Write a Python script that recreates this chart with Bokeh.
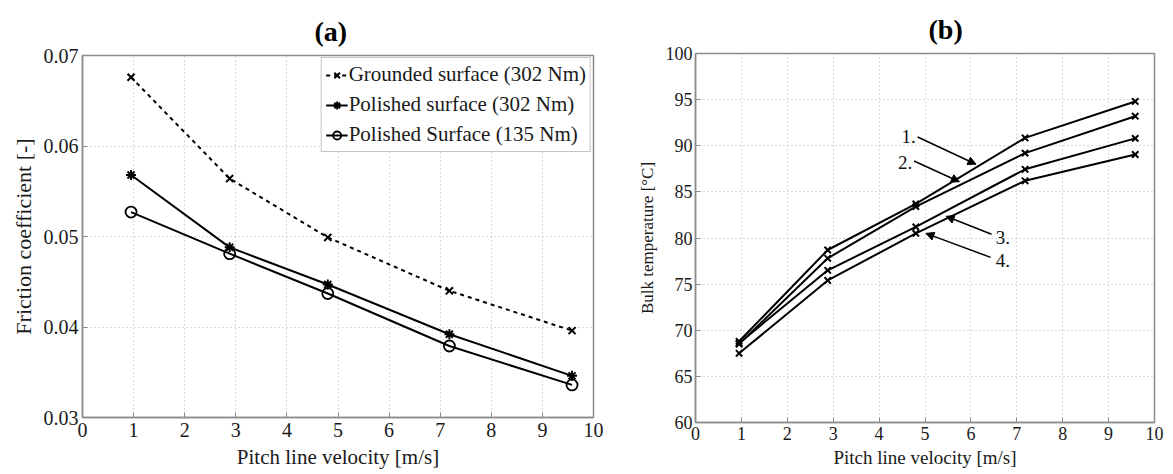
from bokeh.plotting import figure
from bokeh.layouts import row, column
from bokeh.models import (FixedTicker, Range1d, Arrow, NormalHead,
                          LabelSet, ColumnDataSource)
from bokeh.embed import file_html
from bokeh.resources import INLINE

# ---------------- data ----------------
velocity = [0.95, 2.88, 4.8, 7.18, 9.58]

# panel (a): friction coefficient
grounded_302 = [0.0676, 0.0564, 0.0499, 0.0440, 0.0396]
polished_302 = [0.0568, 0.0488, 0.0447, 0.0392, 0.0346]
polished_135 = [0.0527, 0.0481, 0.0437, 0.0379, 0.0336]
legend_a = ["Grounded surface (302 Nm)", "Polished surface (302 Nm)",
            "Polished Surface (135 Nm)"]

# panel (b): bulk temperature
temp_1 = [68.8, 78.7, 83.7, 90.85, 94.8]
temp_2 = [68.5, 77.8, 83.4, 89.2, 93.2]
temp_3 = [68.6, 76.5, 81.2, 87.45, 90.8]
temp_4 = [67.5, 75.4, 80.5, 86.2, 89.05]

# curve annotations of panel (b)
ann_text = ["1.", "2.", "3.", "4."]
ann_text_x = [4.80, 4.72, 6.85, 6.85]
ann_text_y = [91.0, 88.2, 80.1, 77.6]
ann_x_start = [4.84, 4.76, 6.45, 6.43]
ann_y_start = [90.95, 88.35, 80.4, 77.9]
ann_x_end = [6.11, 5.75, 5.46, 5.02]
ann_y_end = [88.0, 86.1, 82.35, 80.5]

x_ticks = list(range(0, 11))
y_ticks_a = [0.03, 0.04, 0.05, 0.06, 0.07]
y_ticks_b = [60, 65, 70, 75, 80, 85, 90, 95, 100]

FONT = "Liberation Serif"
FRAME = "#8c8c8c"


def style(p, yt, tick_size, xlab_size, ylab_size, x_stand, y_stand, xlab_stand, ylab_stand):
    p.xaxis.ticker = FixedTicker(ticks=x_ticks)
    p.yaxis.ticker = FixedTicker(ticks=yt)
    for ax in p.axis:
        ax.major_label_text_font = FONT
        ax.major_label_text_font_size = tick_size
        ax.major_label_text_color = "#1a1a1a"
        ax.axis_label_text_font = FONT
        ax.axis_label_text_font_style = "normal"
        ax.axis_label_text_color = "#1a1a1a"
        ax.axis_line_color = FRAME
        ax.axis_line_width = 1.5
        ax.major_tick_in = 5
        ax.major_tick_out = 0
        ax.major_tick_line_color = FRAME
        ax.minor_tick_line_color = None
    p.xaxis.axis_label_text_font_size = xlab_size
    p.yaxis.axis_label_text_font_size = ylab_size
    p.xaxis.major_label_standoff = x_stand
    p.yaxis.major_label_standoff = y_stand
    p.xaxis.axis_label_standoff = xlab_stand
    p.yaxis.axis_label_standoff = ylab_stand
    p.grid.grid_line_color = "#b4b4b4"
    p.grid.grid_line_dash = "1 3"
    p.grid.grid_line_width = 1
    p.outline_line_color = FRAME
    p.outline_line_width = 1.5
    p.title.text_font = FONT
    p.title.text_font_size = "28px"
    p.title.text_font_style = "bold"
    p.title.align = "left"
    p.title.text_color = "#000000"


# ---------------- panel (a) ----------------
pa = figure(width=620, height=474, output_backend="svg", toolbar_location=None,
            x_range=Range1d(0, 10), y_range=Range1d(0.03, 0.07),
            title="(a)", x_axis_label="Pitch line velocity [m/s]",
            y_axis_label="Friction coefficient [-]",
            min_border_left=82, min_border_right=27, min_border_top=55,
            min_border_bottom=57)
style(pa, y_ticks_a, "20px", "21px", "22px", 5, 4, 5, 5)
pa.title.standoff = 17
pa.title.offset = 232

pa.line(velocity, grounded_302, line_color="black", line_width=2, line_dash="4 4",
        legend_label=legend_a[0])
pa.scatter(velocity, grounded_302, marker="x", size=10, line_color="black", line_width=2,
           legend_label=legend_a[0])
pa.line(velocity, polished_302, line_color="black", line_width=2, legend_label=legend_a[1])
pa.scatter(velocity, polished_302, marker="asterisk", size=10, line_color="black",
           line_width=2, legend_label=legend_a[1])
pa.line(velocity, polished_135, line_color="black", line_width=2, legend_label=legend_a[2])
pa.scatter(velocity, polished_135, marker="circle", size=11, line_color="black",
           fill_color=None, line_width=1.8, legend_label=legend_a[2])

lg = pa.legend[0]
lg.location = "top_right"
lg.margin = 2
lg.padding = 4
lg.spacing = 5
lg.label_text_font = FONT
lg.label_text_font_size = "21px"
lg.label_text_color = "#1a1a1a"
lg.label_standoff = 1
lg.glyph_width = 22
lg.label_height = 25
lg.border_line_color = FRAME
lg.border_line_width = 1.2
lg.background_fill_alpha = 1.0

# ---------------- panel (b) ----------------
pb = figure(width=553, height=474, output_backend="svg", toolbar_location=None,
            x_range=Range1d(0, 10), y_range=Range1d(60, 100),
            title="(b)", x_axis_label="Pitch line velocity [m/s]",
            y_axis_label="Bulk temperature [\u00b0C]",
            min_border_left=75, min_border_right=19, min_border_top=53,
            min_border_bottom=52)
style(pb, y_ticks_b, "18px", "19px", "17px", 4, 3, 4, 6)
pb.title.standoff = 17
pb.title.offset = 233

for t in (temp_1, temp_2, temp_3, temp_4):
    pb.line(velocity, t, line_color="black", line_width=2)
    pb.scatter(velocity, t, marker="x", size=9, line_color="black", line_width=2)

src = ColumnDataSource(dict(tx=ann_text_x, ty=ann_text_y, text=ann_text,
                            x0=ann_x_start, y0=ann_y_start, x1=ann_x_end, y1=ann_y_end))
pb.add_layout(Arrow(end=NormalHead(size=8, fill_color="black", line_color="black"),
                    x_start="x0", y_start="y0", x_end="x1", y_end="y1",
                    line_color="black", line_width=1.5, source=src))
pb.add_layout(LabelSet(x="tx", y="ty", text="text", source=src, text_font=FONT,
                       text_font_size="19px", text_align="right",
                       text_baseline="middle", text_color="#111111"))

layout = row(column(pa), column(pb))
open("out.html", "w").write(file_html(layout, INLINE))
